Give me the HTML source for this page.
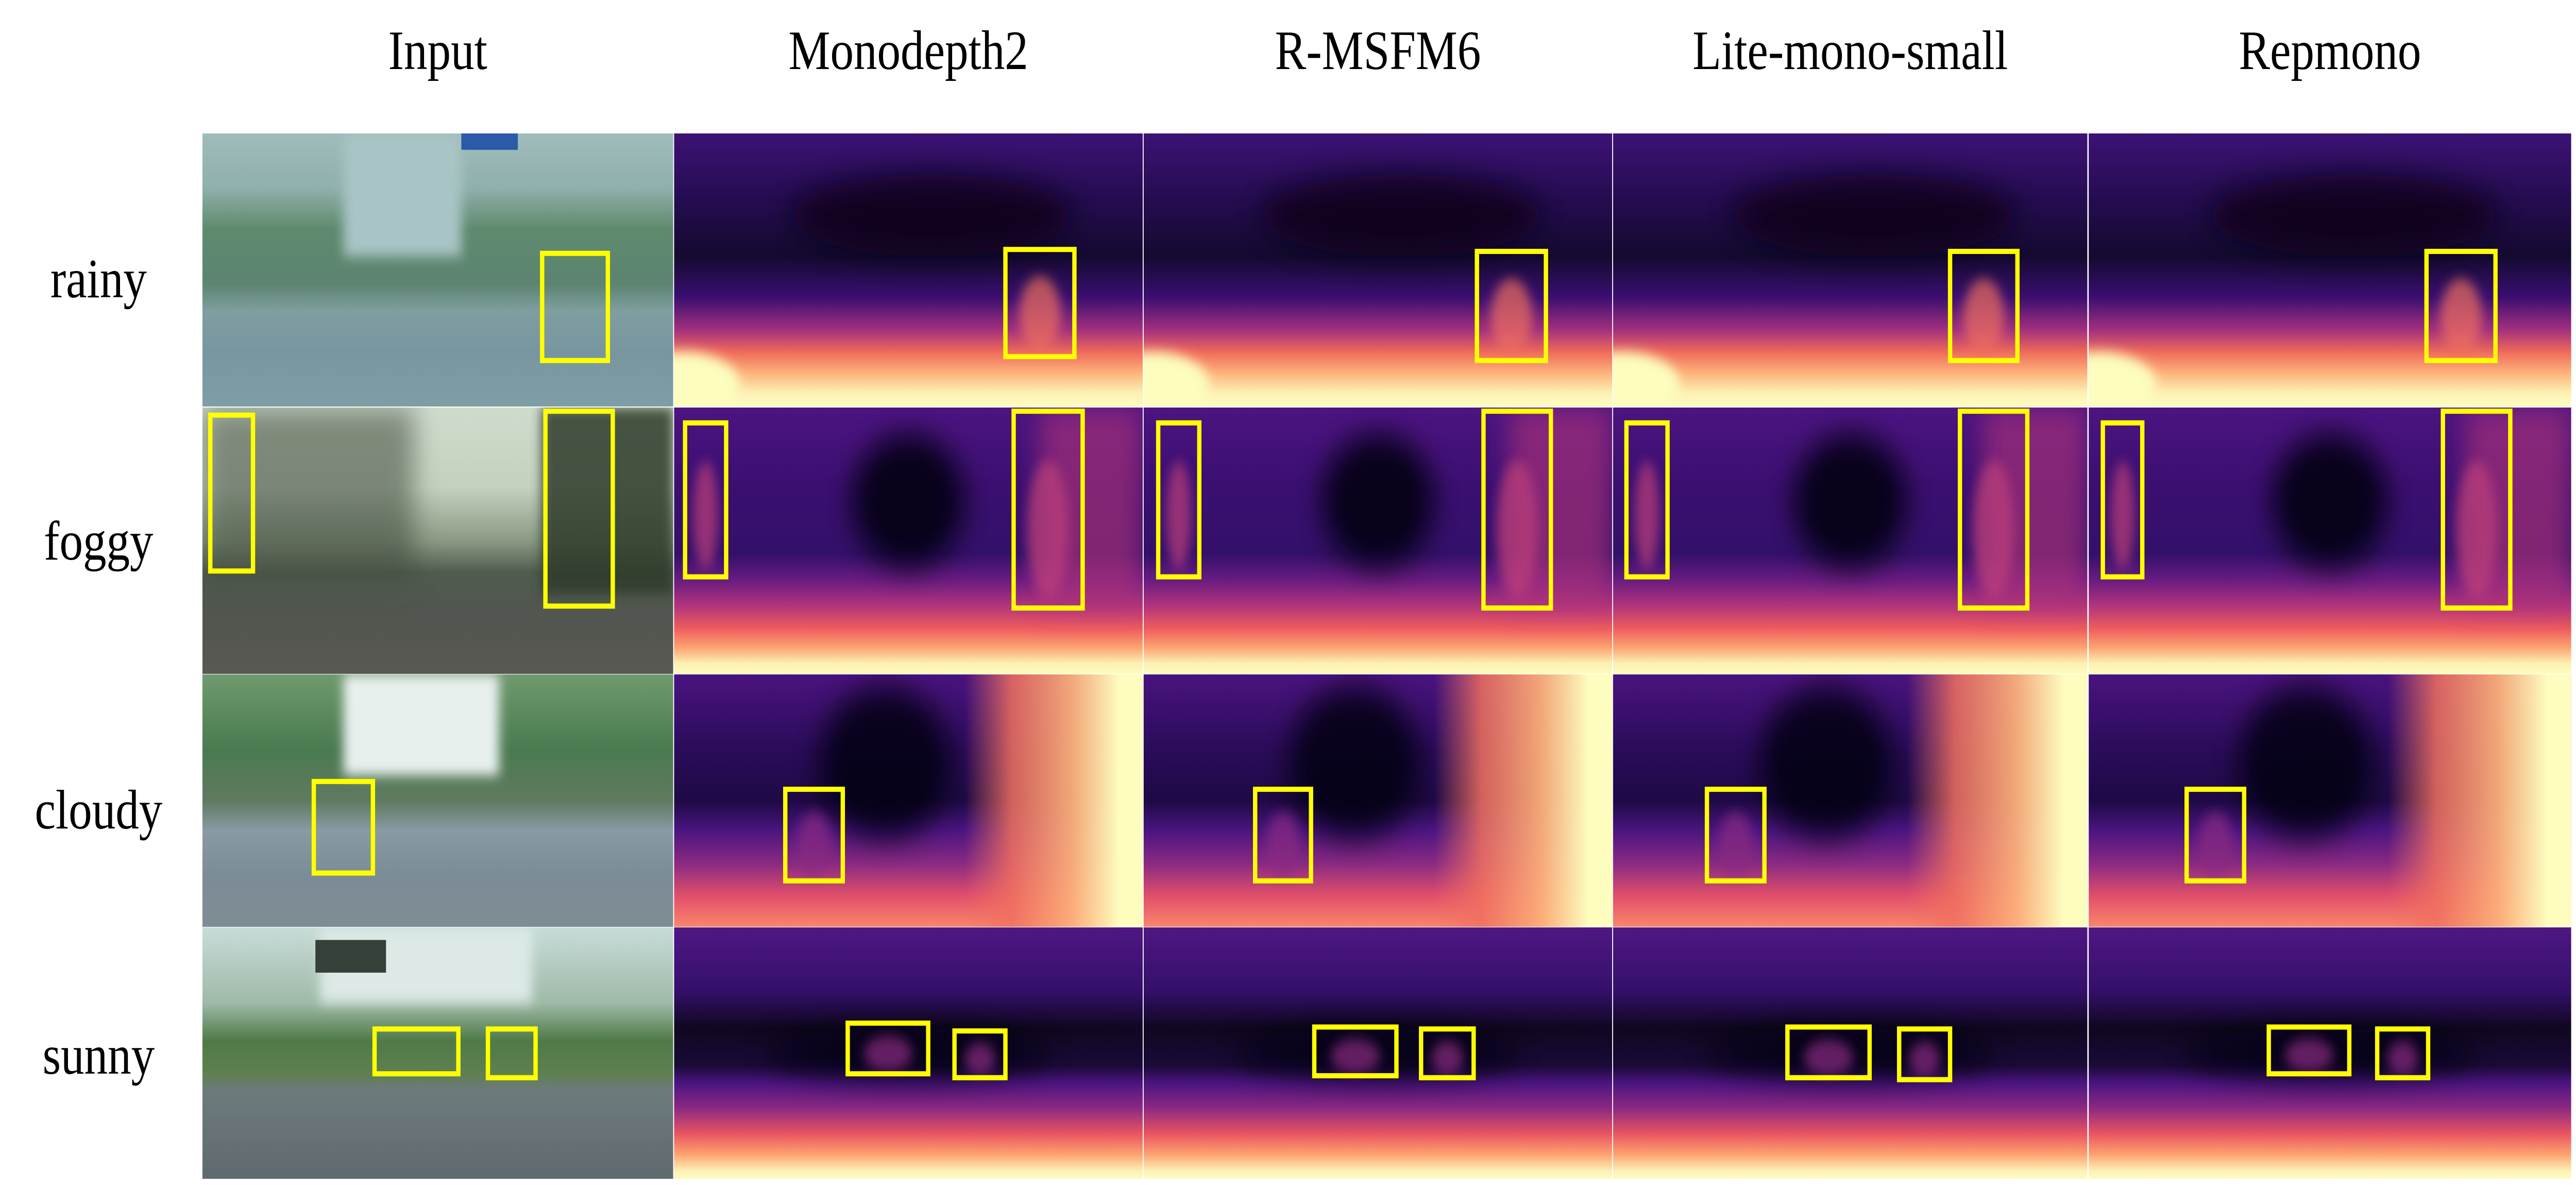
<!DOCTYPE html>
<html><head><meta charset="utf-8">
<style>
html,body{margin:0;padding:0;background:#fff;width:100%;height:100%;overflow:hidden;}
svg{display:block;position:fixed;left:0;top:0;width:100vw;height:100vh;}
text{font-family:"Liberation Serif",serif;fill:#000;}
</style></head>
<body>
<svg id="fig" viewBox="0 0 5931 2300" preserveAspectRatio="none" xmlns="http://www.w3.org/2000/svg">
<defs>
<filter id="b1" x="-50%" y="-50%" width="200%" height="200%"><feGaussianBlur stdDeviation="28"/></filter>
<filter id="b2" x="-50%" y="-50%" width="200%" height="200%"><feGaussianBlur stdDeviation="12"/></filter>
</defs>
</svg>
<script>
const columns = ["Input","Monodepth2","R-MSFM6","Lite-mono-small","Repmono"];
const rows = ["rainy","foggy","cloudy","sunny"];
const colX = [[466,1550],[1552,2631],[2633,3712],[3714,4806],[4809,5920]];
const rowY = [[259,789],[791,1308],[1309,1799],[1800,2288]];
const S = 5931/1568;
const boxes = [
 [[[330,130,370,185]],[[612,128,654,183]],[[899,129,941,185]],[[1187,129,1228,185]],[[1477,129,1519,185]]],
 [[[128,213,154,293],[332,211,373,311]],[[417,217,442,296],[617,211,659,312]],[[705,217,730,296],[903,211,944,312]],[[990,217,1015,296],[1193,211,1234,312]],[[1280,217,1304,296],[1487,211,1528,312]]],
 [[[191,401,227,448]],[[478,405,513,452]],[[764,405,798,452]],[[1039,405,1074,452]],[[1331,405,1366,452]]],
 [[[228,528,279,551],[297,528,326,553]],[[516,525,565,551],[581,529,612,553]],[[800,527,850,552],[865,528,897,553]],[[1088,527,1138,553],[1156,528,1187,554]],[[1381,527,1430,551],[1447,528,1478,553]]]
];
const svg=document.getElementById('fig');
const NS="http://www.w3.org/2000/svg";
const defs=svg.querySelector('defs');
let gid=0;
function mk(tag,attrs,parent){const e=document.createElementNS(NS,tag);for(const k in attrs)e.setAttribute(k,attrs[k]);(parent||svg).appendChild(e);return e;}
function grad(stops,horiz){const id='g'+(gid++);const g=mk('linearGradient',{id:id,x1:0,y1:0,x2:horiz?1:0,y2:horiz?0:1},defs);stops.forEach(s=>mk('stop',{offset:s[0],'stop-color':s[1],'stop-opacity':s[2]==null?1:s[2]},g));return 'url(#'+id+')';}

columns.forEach((c,i)=>{
 const t=mk('text',{x:(colX[i][0]+colX[i][1])/2,y:134,'font-size':108,'text-anchor':'middle'});
 t.textContent=c;
 
 
});
rows.forEach((r,j)=>{
 const t=mk('text',{x:227,y:[577,1086,1608,2084][j],'font-size':108,'text-anchor':'middle'});
 t.textContent=r;
 
 
});

const depthV=[
 [[0,'#3d1275'],[0.25,'#240c4f'],[0.45,'#140a30'],[0.6,'#3a0f70'],[0.72,'#a3307e'],[0.8,'#ef6a5a'],[0.88,'#fdb57c'],[0.95,'#fcf0b5'],[1,'#fcfdbf']],
 [[0,'#4c1481'],[0.3,'#3a0f70'],[0.55,'#33106a'],[0.65,'#6a1c81'],[0.75,'#b5367a'],[0.83,'#ee5d5d'],[0.9,'#fda270'],[0.96,'#fcefb3'],[1,'#fcfdbf']],
 [[0,'#4a137f'],[0.3,'#2a0c5a'],[0.5,'#1e0a45'],[0.62,'#4b1580'],[0.75,'#8a2a82'],[0.88,'#e2506a'],[1,'#f9866a']],
 [[0,'#4f1783'],[0.25,'#34106a'],[0.4,'#100720'],[0.55,'#1a0a38'],[0.62,'#4b1580'],[0.72,'#8c2981'],[0.82,'#e95462'],[0.9,'#fca06e'],[0.97,'#fcf2b8'],[1,'#fcfdbf']]
];
const photoV=[
 [[0,'#9fbcbc'],[0.2,'#8fb0ac'],[0.35,'#5f8a6e'],[0.55,'#5c8470'],[0.65,'#7f9ea0'],[0.8,'#7896a0'],[1,'#7e9ea6']],
 [[0,'#cfdccc'],[0.3,'#c3d2bf'],[0.5,'#8a9a84'],[0.62,'#4f5c4e'],[0.8,'#525550'],[1,'#585a52']],
 [[0,'#6f9a6e'],[0.3,'#4a7a50'],[0.5,'#5f7a60'],[0.62,'#8a9aa4'],[0.8,'#7c8c96'],[1,'#7e8d94']],
 [[0,'#c8dcd8'],[0.3,'#9fbaa8'],[0.45,'#4f7a48'],[0.58,'#5f8050'],[0.65,'#6d7a7c'],[1,'#5f6a70']]
];

rows.forEach((r,j)=>{
 const [y1,y2]=rowY[j];const h=y2-y1;
 columns.forEach((c,i)=>{
  const [x1,x2]=colX[i];const w=x2-x1;
  const g=mk('g',{});
  
  
  const cp='cp'+j+'_'+i;
  const clip=mk('clipPath',{id:cp},defs);mk('rect',{x:x1,y:y1,width:w,height:h},clip);
  g.setAttribute('clip-path','url(#'+cp+')');
  if(i==0){
   mk('rect',{x:x1,y:y1,width:w,height:h,fill:grad(photoV[j])},g);
   if(j==0){mk('rect',{x:x1+w*0.3,y:y1,width:w*0.25,height:h*0.45,fill:'#a8c4c4',filter:'url(#b2)'},g);
            mk('rect',{x:x1+w*0.55,y:y1,width:w*0.12,height:h*0.06,fill:'#2a5aa8'},g);}
   if(j==1){mk('rect',{x:x1,y:y1,width:w*0.45,height:h*0.65,fill:'#3f4a3a',opacity:0.55,filter:'url(#b1)'},g);
            mk('rect',{x:x1+w*0.72,y:y1,width:w*0.28,height:h*0.7,fill:'#2f3a2c',opacity:0.85,filter:'url(#b2)'},g);}
   if(j==2){mk('rect',{x:x1+w*0.3,y:y1,width:w*0.33,height:h*0.4,fill:'#e8f0ee',filter:'url(#b2)'},g);}
   if(j==3){mk('rect',{x:x1+w*0.25,y:y1,width:w*0.45,height:h*0.3,fill:'#dce9e6',filter:'url(#b2)'},g);
            mk('rect',{x:x1+w*0.24,y:y1+h*0.05,width:w*0.15,height:h*0.13,fill:'#344038'},g);}
  } else {
   mk('rect',{x:x1,y:y1,width:w,height:h,fill:grad(depthV[j])},g);
   if(j==0){mk('ellipse',{cx:x1+w*0.55,cy:y1+h*0.3,rx:w*0.3,ry:h*0.15,fill:'#0a0418',opacity:0.8,filter:'url(#b1)'},g);
            mk('ellipse',{cx:x1+w*0.02,cy:y1+h*0.92,rx:w*0.12,ry:h*0.12,fill:'#fcfdbf',filter:'url(#b2)'},g);}
   if(j==1){mk('ellipse',{cx:x1+w*0.5,cy:y1+h*0.35,rx:w*0.12,ry:h*0.25,fill:'#050208',opacity:0.85,filter:'url(#b1)'},g);
            mk('rect',{x:x1+w*0.78,y:y1,width:w*0.22,height:h*0.75,fill:'#b5367a',opacity:0.6,filter:'url(#b1)'},g);}
   if(j==2){mk('ellipse',{cx:x1+w*0.45,cy:y1+h*0.35,rx:w*0.14,ry:h*0.3,fill:'#05030c',opacity:0.8,filter:'url(#b1)'},g);
            mk('rect',{x:x1,y:y1,width:w,height:h,fill:grad([[0,'#000',0],[0.62,'#f07060',0],[0.72,'#f0705f',0.85],[0.85,'#fcb07a',0.95],[0.95,'#fcfdbf',1],[1,'#fcfdbf',1]],true)},g);}
   if(j==3){mk('ellipse',{cx:x1+w*0.5,cy:y1+h*0.5,rx:w*0.3,ry:h*0.1,fill:'#05030c',opacity:0.7,filter:'url(#b1)'},g);}
  }
  boxes[j][i].forEach((b,k)=>{
   const bx=b[0]*S,by=b[1]*S,bw=(b[2]-b[0])*S,bh=(b[3]-b[1])*S;
   if(i>0){mk('ellipse',{cx:bx+bw/2,cy:by+bh*0.6,rx:bw*0.3,ry:bh*0.35,fill:j==0?'#f0705f':(j==1?'#c0407a':'#8a2a82'),opacity:0.7,filter:'url(#b2)'},g);}
   const rc=mk('rect',{x:bx,y:by,width:bw,height:bh,fill:'none',stroke:'#ffff00','stroke-width':10},svg);
   
   
  });
 });
});
</script>
</body></html>
